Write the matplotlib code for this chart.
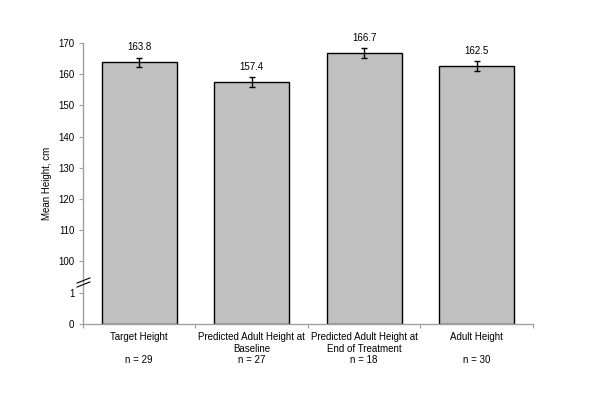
import matplotlib
matplotlib.use("Agg")
import matplotlib.pyplot as plt
import numpy as np

plt.rcParams['font.family'] = ['Liberation Sans', 'DejaVu Sans']

categories = ["Target Height", "Predicted Adult Height at\nBaseline",
              "Predicted Adult Height at\nEnd of Treatment", "Adult Height"]
n_values = [29, 27, 18, 30]
means = [163.8, 157.4, 166.7, 162.5]
errors = [1.4, 1.6, 1.5, 1.6]
y_ticks = [0, 1, 100, 110, 120, 130, 140, 150, 160, 170]


# broken axis: 0-1 gets one step, 1-100 squeezed into one step, then 10 per step
def forward(v):
    v = np.asarray(v, dtype=float)
    return np.where(v <= 1, v, np.where(v <= 100, 1 + (v - 1) / 99.0, 2 + (v - 100) / 10.0))


def inverse(p):
    p = np.asarray(p, dtype=float)
    return np.where(p <= 1, p, np.where(p <= 2, 1 + (p - 1) * 99.0, 100 + (p - 2) * 10.0))


fig = plt.figure(figsize=(6, 4.08), dpi=100)
ax = fig.add_axes([0.138, 0.206, 0.75, 0.689])
ax.set_yscale('function', functions=(forward, inverse))

x = np.arange(len(categories))
ax.bar(x, means, width=0.667, color='#c0c0c0', edgecolor='black', linewidth=1.0, zorder=2)
ax.errorbar(x, means, yerr=errors, fmt='none', ecolor='black', elinewidth=1.0,
            capsize=2.5, capthick=1.0, zorder=3)
for xi, m, e in zip(x, means, errors):
    ax.annotate('{:.1f}'.format(m), (xi, m + e), xytext=(0, 4), textcoords='offset points',
                ha='center', va='bottom', fontsize=7)

ax.set_ylim(0, 170)
ax.set_xlim(-0.5, len(categories) - 0.5)
ax.set_yticks(y_ticks)
ax.set_yticklabels([str(t) for t in y_ticks], fontsize=7)
ax.set_xticks(np.arange(-0.5, len(categories), 1.0))
ax.set_xticklabels([])
ax.set_xticks(x, minor=True)
ax.set_xticklabels(['{}\n{}n = {}'.format(c, '' if '\n' in c else '\n', n)
                    for c, n in zip(categories, n_values)], minor=True, fontsize=7)
ax.tick_params(axis='x', which='minor', length=0, pad=6)
ax.tick_params(axis='x', which='major', length=3, color='#a0a0a0', direction='out')
ax.tick_params(axis='y', length=3, color='#a0a0a0', pad=3)

ax.set_ylabel('Mean Height, cm', fontsize=7)
ax.yaxis.set_label_coords(-0.068, 0.5)

for side in ['top', 'right']:
    ax.spines[side].set_visible(False)
for side in ['left', 'bottom']:
    ax.spines[side].set_color('#a0a0a0')
    ax.spines[side].set_linewidth(1.0)

# break marks on the y axis
trans = ax.get_yaxis_transform()
ax.plot([0, 0], [28, 40], transform=trans, linestyle='none', marker=[(-1, -0.4), (1, 0.4)],
        markersize=10, markeredgecolor='black', markeredgewidth=0.8, clip_on=False, zorder=4)

fig.savefig('out.png', dpi=100)
